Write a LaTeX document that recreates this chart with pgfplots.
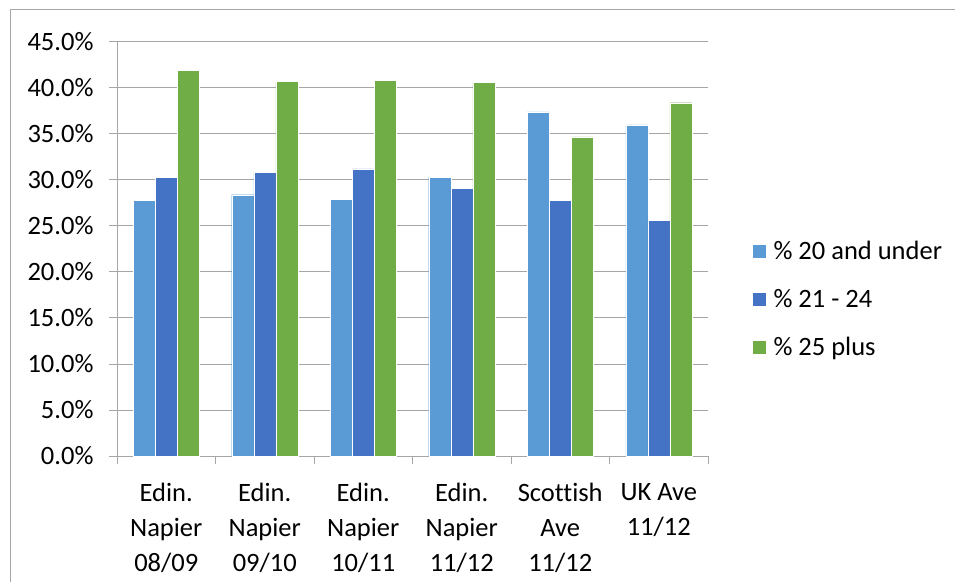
\documentclass[border=0pt]{standalone}
\usepackage{pgfplots}
\pgfplotsset{compat=1.18}
\usepackage{fontspec}
\setmainfont{Carlito}[Ligatures={NoCommon}]
\definecolor{cA}{HTML}{5B9BD5}
\definecolor{cB}{HTML}{4472C4}
\definecolor{cC}{HTML}{70AD47}
\definecolor{gridc}{HTML}{A6A6A6}
\begin{document}
\begin{tikzpicture}[x=1pt,y=1pt]
\clip (0,0) rectangle (955,581);
\path[use as bounding box] (0,0) rectangle (955,581);
\draw[gridc, line width=1pt] (10,-10) rectangle (970,571);
\begin{axis}[
  at={(117pt,125pt)}, anchor=south west,
  scale only axis, width=591pt, height=414pt,
  ybar=0pt, bar width=22pt,
  xmin=-0.5, xmax=5.5, ymin=0, ymax=45,
  xtick={0,1,2,3,4,5},
  xticklabels={{Edin.\\Napier\\08/09},{Edin.\\Napier\\09/10},{Edin.\\Napier\\10/11},{Edin.\\Napier\\11/12},{Scottish\\Ave\\11/12},{UK Ave\\11/12}},
  minor xtick={-0.5,0.5,1.5,2.5,3.5,4.5,5.5},
  major x tick style={draw=none},
  minor x tick style={gridc, line width=1pt},
  minor tick length=8pt,
  ytick={0,5,...,45},
  y tick style={gridc, line width=1pt},
  major tick length=8pt,
  tick align=outside,
  axis x line*=bottom, axis y line*=left,
  axis line style={gridc, line width=1pt, -},
  ymajorgrids, grid style={gridc, line width=1pt},
  /pgf/number format/assume math mode=true,
  yticklabel={\pgfmathprintnumber[fixed,fixed zerofill,precision=1]{\tick}\%},
  yticklabel style={font=\fontsize{26.5}{31}\selectfont, xshift=-12pt},
  xticklabel style={font=\fontsize{26.5}{35}\selectfont, align=center, yshift=-16pt},
  legend style={at={(1.0745,0.379)}, anchor=west, draw=none, fill=none,
    font=\fontsize{26.5}{31}\selectfont, inner sep=0pt, row sep=28pt,
    nodes={inner sep=0pt, anchor=west}},
  legend cell align=left,
  legend image code/.code={\fill[#1] (0pt,-7pt) rectangle (14pt,7pt);},
  every axis plot/.append style={draw=white, line width=0.3pt},
]
\addplot[fill=cA] coordinates {(0,27.8) (1,28.4) (2,27.9) (3,30.3) (4,37.4) (5,36.0)};
\addplot[fill=cB] coordinates {(0,30.3) (1,30.8) (2,31.2) (3,29.1) (4,27.8) (5,25.6)};
\addplot[fill=cC] coordinates {(0,41.9) (1,40.7) (2,40.8) (3,40.6) (4,34.7) (5,38.4)};
\legend{\hspace{7pt}\% 20 and under,\hspace{7pt}\% 21 - 24,\hspace{7pt}\% 25 plus}
\end{axis}
\end{tikzpicture}
\end{document}
